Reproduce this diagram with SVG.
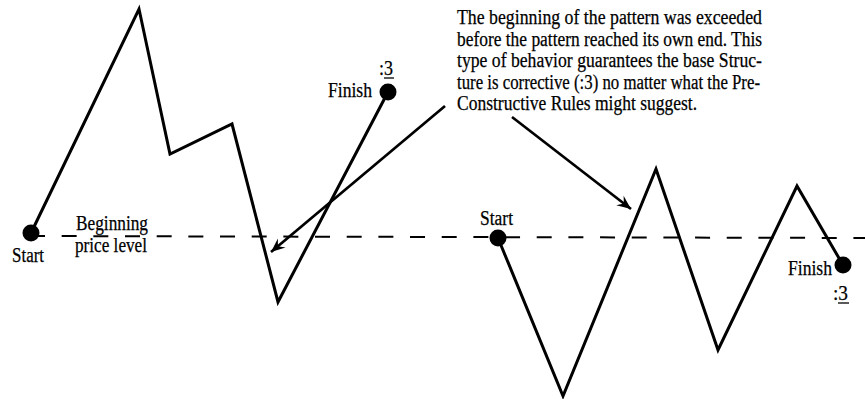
<svg xmlns="http://www.w3.org/2000/svg" width="865" height="399" viewBox="0 0 865 399">
<style>
.t{font-family:"Liberation Serif","Times New Roman",serif;font-size:20.5px;fill:#000;stroke:#000;stroke-width:0.25}
.wave{fill:none;stroke:#000;stroke-width:3;stroke-linejoin:miter;stroke-linecap:butt}
.dash{fill:none;stroke:#000;stroke-width:2;stroke-dasharray:15 16.67}
.arr{fill:none;stroke:#000;stroke-width:2.7}
.ul{stroke:#000;stroke-width:1.3}
</style>
<defs>
<marker id="ah" markerUnits="userSpaceOnUse" markerWidth="20" markerHeight="16" refX="0" refY="0" viewBox="-16 -8 18 16" orient="auto">
<path d="M0,0 L-14,-6 L-9,0 L-14,6 Z" fill="#000"/>
</marker>
</defs>
<rect width="865" height="399" fill="#fff"/>
<g id="baseline">
<line class="dash" x1="30" y1="236" x2="865" y2="238"/>
</g>
<g id="left-pattern">
<polyline class="wave" points="31,233 139,9 170,154 232,124 278,302 388,92"/>
<circle cx="31" cy="233" r="8.5"/>
<circle cx="388" cy="92" r="8.5"/>
<text class="t" x="12" y="262" textLength="32" lengthAdjust="spacingAndGlyphs">Start</text>
<text class="t" x="328" y="97" textLength="44" lengthAdjust="spacingAndGlyphs">Finish</text>
<text class="t" x="379" y="75" textLength="14" lengthAdjust="spacingAndGlyphs">:3</text>
<line class="ul" x1="384" y1="78" x2="394" y2="78"/>
<text class="t" x="76" y="230" textLength="72" lengthAdjust="spacingAndGlyphs">Beginning</text>
<text class="t" x="75" y="252" textLength="72" lengthAdjust="spacingAndGlyphs">price level</text>
</g>
<g id="right-pattern">
<polyline class="wave" points="498,238 563,396 656,169 718,350 797,186 843,265"/>
<circle cx="498" cy="238" r="8.5"/>
<circle cx="843" cy="265" r="8.5"/>
<text class="t" x="480" y="225" textLength="33" lengthAdjust="spacingAndGlyphs">Start</text>
<text class="t" x="788" y="275" textLength="44" lengthAdjust="spacingAndGlyphs">Finish</text>
<text class="t" x="833" y="300" textLength="15" lengthAdjust="spacingAndGlyphs">:3</text>
<line class="ul" x1="838" y1="303" x2="849" y2="303"/>
</g>
<g id="note">
<text class="t" x="457" y="24" textLength="305" lengthAdjust="spacingAndGlyphs">The beginning of the pattern was exceeded</text>
<text class="t" x="457" y="45.5" textLength="305" lengthAdjust="spacingAndGlyphs">before the pattern reached its own end.  This</text>
<text class="t" x="457" y="67" textLength="305" lengthAdjust="spacingAndGlyphs">type of behavior guarantees the base Struc-</text>
<text class="t" x="457" y="88.5" textLength="303" lengthAdjust="spacingAndGlyphs">ture is corrective (:3) no matter what the Pre-</text>
<text class="t" x="457" y="110" textLength="240" lengthAdjust="spacingAndGlyphs">Constructive Rules might suggest.</text>
</g>
<g id="connectors">
<line class="arr" x1="445" y1="106" x2="271" y2="252" marker-end="url(#ah)"/>
<line class="arr" x1="512" y1="117" x2="631" y2="209" marker-end="url(#ah)"/>
</g>
</svg>
